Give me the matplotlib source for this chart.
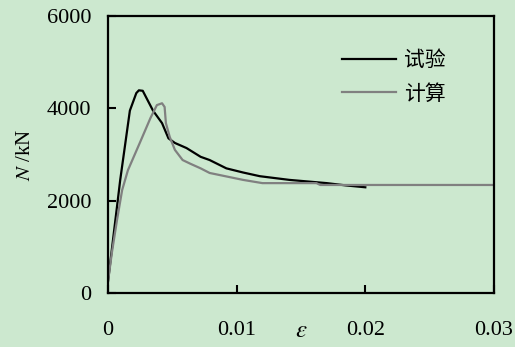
import matplotlib
matplotlib.use("Agg")
import matplotlib.pyplot as plt

# Axial load N (kN) versus strain for test and calculated curves
test_strain = [0.0, 0.00095, 0.0017, 0.0022, 0.0024, 0.0027, 0.0035, 0.0042,
               0.0047, 0.0052, 0.0061, 0.0072, 0.0079, 0.0092, 0.0105, 0.0118,
               0.0141, 0.0170, 0.0185, 0.0200]
test_load = [250, 2450, 3950, 4330, 4390, 4380, 3950, 3680,
             3350, 3250, 3140, 2950, 2880, 2700, 2610, 2530,
             2450, 2380, 2330, 2290]

calc_strain = [0.0, 0.0003, 0.0007, 0.0011, 0.00155, 0.0025, 0.0033, 0.0038, 0.0042,
               0.0044, 0.0045, 0.0048, 0.0052, 0.0058, 0.0064, 0.0072, 0.0079,
               0.0105, 0.0120, 0.0162, 0.0165, 0.0204, 0.0300]
calc_load = [250, 870, 1580, 2230, 2660, 3270, 3790, 4070, 4110,
             4030, 3680, 3380, 3100, 2880, 2800, 2700, 2600,
             2450, 2380, 2380, 2340, 2340, 2340]

series_labels = ["试验", "计算"]
x_ticks = [0, 0.01, 0.02, 0.03]
x_tick_labels = ["0", "0.01", "0.02", "0.03"]
y_ticks = [0, 2000, 4000, 6000]
y_tick_labels = ["0", "2000", "4000", "6000"]

plt.rcParams["mathtext.fontset"] = "stix"

bg = "#cce8cf"
serif = ["Liberation Serif", "DejaVu Serif"]
cjk = ["Noto Sans CJK SC", "DejaVu Sans"]

fig = plt.figure(figsize=(5.15, 3.47), dpi=100, facecolor=bg)
ax = fig.add_axes([0.2097, 0.1556, 0.7495, 0.7983], facecolor=bg)

ax.plot(test_strain, test_load, color="black", lw=1.6, label=series_labels[0])
ax.plot(calc_strain, calc_load, color="#808080", lw=1.6, label=series_labels[1])

ax.set_xlim(0, 0.03)
ax.set_ylim(0, 6000)
ax.set_xticks(x_ticks)
ax.set_xticklabels(x_tick_labels, fontfamily=serif, fontsize=16)
ax.set_yticks(y_ticks)
ax.set_yticklabels(y_tick_labels, fontfamily=serif, fontsize=16)
ax.tick_params(axis="x", direction="in", length=6, width=1.5, pad=20)
ax.tick_params(axis="y", direction="in", length=6, width=1.5, pad=12)

for s in ax.spines.values():
    s.set_linewidth(1.6)

ax.set_xlabel(r"$\varepsilon$", fontsize=18, va="center")
ax.xaxis.set_label_coords(0.5, -0.135)
ax.set_ylabel("$N$ /kN", fontsize=15, fontfamily=serif)
ax.yaxis.set_label_coords(-0.19, 0.5)

leg = ax.legend(loc="upper left", bbox_to_anchor=(0.585, 0.91), frameon=False,
                prop={"family": cjk, "size": 15}, handlelength=2.6,
                handletextpad=0.35, labelspacing=0.55, borderaxespad=0)

fig.savefig("out.png", dpi=100, facecolor=bg)
